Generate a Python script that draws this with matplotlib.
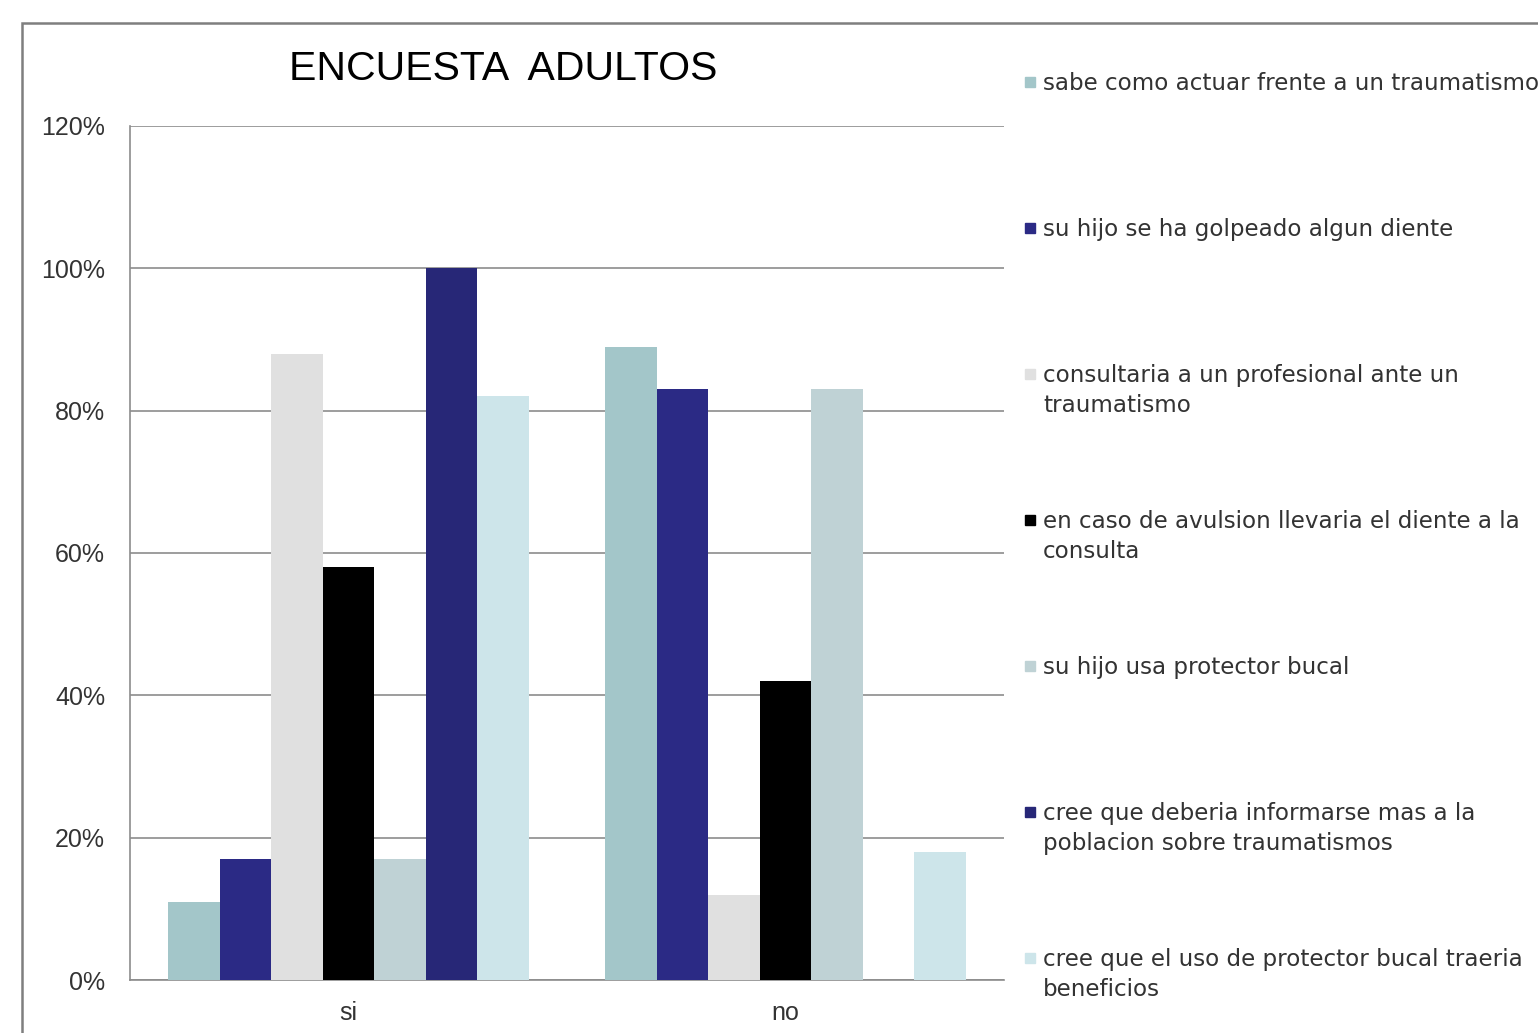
import matplotlib.pyplot as plt
from matplotlib.patches import Rectangle
from matplotlib.ticker import PercentFormatter
import numpy as np

plt.rcParams['font.family'] = ['Liberation Sans', 'DejaVu Sans']

# Datos de la encuesta
categorias = ['si', 'no']
series = [
    'sabe como actuar frente a un traumatismo',
    'su hijo se ha golpeado algun diente',
    'consultaria a un profesional ante un\ntraumatismo',
    'en caso de avulsion llevaria el diente a la\nconsulta',
    'su hijo usa protector bucal',
    'cree que deberia informarse mas a la\npoblacion sobre traumatismos',
    'cree que el uso de protector bucal traeria\nbeneficios',
]
sabe_actuar = [0.11, 0.89]
hijo_golpeado = [0.17, 0.83]
consultaria = [0.88, 0.12]
avulsion = [0.58, 0.42]
usa_protector = [0.17, 0.83]
informarse = [1.00, 0.00]
beneficios = [0.82, 0.18]
valores = [sabe_actuar, hijo_golpeado, consultaria, avulsion,
           usa_protector, informarse, beneficios]
colores = ['#A3C6C9', '#2B2A85', '#E0E0E0', '#000000',
           '#BFD2D5', '#272777', '#CDE5EA']

W, H = 1538, 1033
fig = plt.figure(figsize=(W / 100, H / 100), dpi=100)
ax = fig.add_axes([130 / W, 1 - 980 / H, 874 / W, 854 / H])

x = np.arange(len(categorias))
n = len(series)
ancho = 0.824 / n
for i, (vals, col) in enumerate(zip(valores, colores)):
    ax.bar(x + (i - (n - 1) / 2) * ancho, vals, width=ancho, color=col,
           zorder=3)

ax.set_xlim(-0.5, 1.5)
ax.set_ylim(0, 1.2)
ax.set_yticks(np.arange(0, 1.21, 0.2))
ax.yaxis.set_major_formatter(PercentFormatter(1.0, decimals=0))
ax.set_xticks(x)
ax.set_xticklabels(categorias)
ax.grid(axis='y', color='#8c8c8c', linewidth=1.2, zorder=0)
for s in ['top', 'right']:
    ax.spines[s].set_visible(False)
for s in ['left', 'bottom']:
    ax.spines[s].set_color('#8c8c8c')
    ax.spines[s].set_linewidth(1.2)
ax.tick_params(length=0, labelsize=18, colors='#333333')
ax.tick_params(axis='x', pad=15)
ax.tick_params(axis='y', pad=18)

# Titulo
fig.text(503 / W, 1 - 69 / H, 'ENCUESTA  ADULTOS', ha='center', va='center',
         fontsize=29.5, color='black')

# Leyenda manual
for i, (lab, col) in enumerate(zip(series, colores)):
    yc = 82 + i * 146
    fig.patches.append(Rectangle((1025 / W, 1 - (yc + 5) / H), 10 / W, 10 / H,
                                 transform=fig.transFigure, color=col))
    fig.text(1043 / W, 1 - (yc - 10) / H, lab, ha='left', va='top',
             fontsize=16.6, color='#333333', linespacing=1.4,
             family=['DejaVu Sans'])

# Marco exterior
fig.patches.append(Rectangle((22 / W, -0.05), 1.2, 1 - 23 / H + 0.05,
                             transform=fig.transFigure, fill=False,
                             edgecolor='#7f7f7f', linewidth=1.8))

fig.savefig('out.png', dpi=100)
